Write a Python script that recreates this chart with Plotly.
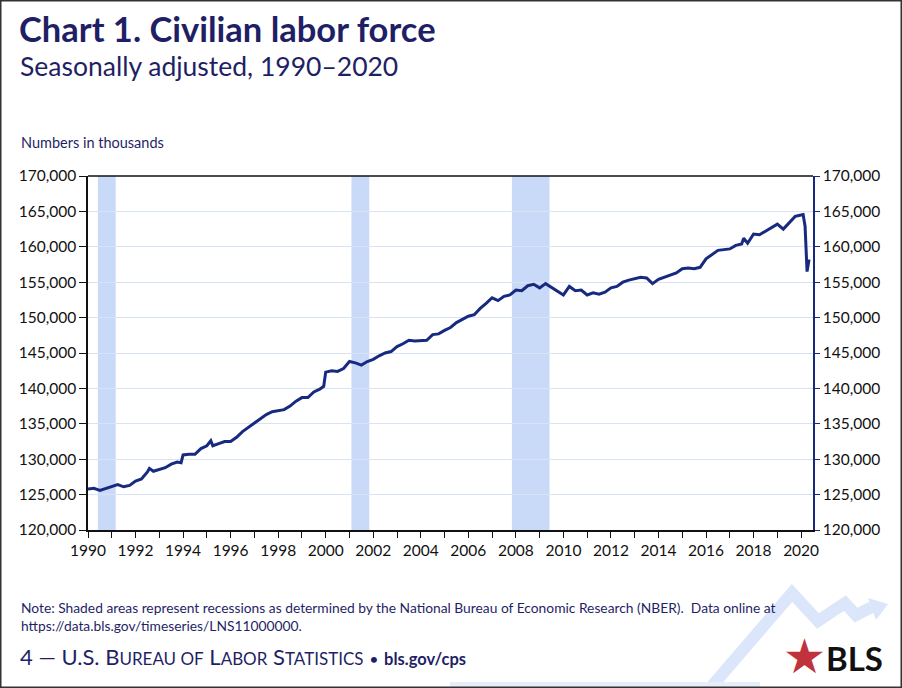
import plotly.graph_objects as go

# ---------------- data ----------------
months = ["1990-01","1990-04","1990-07","1990-10","1991-01","1991-04","1991-07","1991-10",
          "1992-01","1992-04","1992-07","1992-08","1992-10","1993-01","1993-04","1993-07","1993-10","1993-12",
          "1994-01","1994-04","1994-07","1994-10","1995-01","1995-03","1995-04","1995-07","1995-10",
          "1996-01","1996-04","1996-07","1996-10","1997-01","1997-04","1997-07","1997-10",
          "1998-01","1998-04","1998-07","1998-10","1999-01","1999-04","1999-07","1999-10","1999-12",
          "2000-01","2000-04","2000-07","2000-10","2001-01","2001-04","2001-07","2001-10",
          "2002-01","2002-04","2002-07","2002-10","2003-01","2003-04","2003-07","2003-10",
          "2004-01","2004-04","2004-07","2004-10","2005-01","2005-04","2005-07","2005-10",
          "2006-01","2006-04","2006-07","2006-10","2007-01","2007-04","2007-07","2007-10",
          "2008-01","2008-04","2008-07","2008-10","2009-01","2009-04","2009-07","2009-10",
          "2010-01","2010-04","2010-07","2010-10","2011-01","2011-04","2011-07","2011-10",
          "2012-01","2012-04","2012-07","2012-10","2013-01","2013-04","2013-07","2013-10",
          "2014-01","2014-04","2014-07","2014-10","2015-01","2015-04","2015-07","2015-10",
          "2016-01","2016-04","2016-07","2016-10","2017-01","2017-04","2017-07","2017-08","2017-10",
          "2018-01","2018-04","2018-07","2018-10","2019-01","2019-04","2019-07","2019-10",
          "2020-01","2020-02","2020-03","2020-04","2020-05"]
labor_force = [125800,125900,125600,125900,126100,126400,126100,126300,
               126900,127200,128200,128700,128300,128600,128800,129300,129600,129500,
               130600,130700,130700,131500,131900,132600,131900,132200,132500,
               132500,133100,133900,134500,135100,135700,136300,136700,
               136900,137000,137500,138200,138700,138700,139500,139900,140300,
               142300,142500,142400,142800,143800,143600,143300,143800,
               144100,144600,145000,145200,145900,146300,146800,146700,
               146800,146800,147600,147700,148200,148600,149300,149700,
               150200,150400,151300,152000,152800,152400,153000,153200,
               153900,153800,154500,154700,154200,154800,154300,153700,
               153200,154400,153800,153900,153200,153500,153300,153600,
               154200,154400,155000,155300,155500,155700,155600,154800,
               155400,155700,156000,156300,156900,157000,156900,157100,
               158300,158900,159500,159600,159700,160200,160400,161200,160500,
               161800,161700,162200,162700,163200,162500,163400,164300,
               164500,164550,162900,156500,158200]

recession_start = ["1990-06", "2001-02", "2007-11"]
recession_end = ["1991-03", "2001-11", "2009-06"]

y_ticks = [120000,125000,130000,135000,140000,145000,150000,155000,160000,165000,170000]
x_ticks = list(range(1990, 2021, 2))

def dec(m):
    y, mo = m.split("-")
    return int(y) + (int(mo) - 1) / 12.0

xs = [dec(m) for m in months]

# ---------------- geometry helpers ----------------
W, H = 902, 688
L, R, T, B = 88, 813, 176, 530
def px(x):
    return (x - L) / (R - L)
def py(y):
    return (B - y) / (B - T)

NAVY = "#1f1f66"
LINE = "#172a80"
FONT = "Lato"

fig = go.Figure()
fig.add_trace(go.Scatter(x=xs, y=labor_force, mode="lines",
                         line=dict(color=LINE, width=3), hoverinfo="skip", showlegend=False))
# invisible trace for the right axis
fig.add_trace(go.Scatter(x=[xs[0]], y=[labor_force[0]], yaxis="y2", mode="lines",
                         line=dict(width=0), hoverinfo="skip", showlegend=False))

shapes = []
for s, e in zip(recession_start, recession_end):
    shapes.append(dict(type="rect", xref="x", yref="paper", x0=dec(s), x1=dec(e), y0=0, y1=1,
                       fillcolor="#c9daf8", line=dict(width=0), layer="below"))
# decorative arrow (background)
pts = [(700, 700), (792, 593), (818, 621), (845, 603), (856, 615), (872, 607)]
path = "M " + " L ".join(f"{px(a):.4f},{py(b):.4f}" for a, b in pts)
shapes.append(dict(type="path", xref="paper", yref="paper", path=path,
                   line=dict(color="#dbe6fa", width=12), layer="below"))
tri = [(868, 598), (888, 604), (876, 620)]
shapes.append(dict(type="path", xref="paper", yref="paper",
                   path="M " + " L ".join(f"{px(a):.4f},{py(b):.4f}" for a, b in tri) + " Z",
                   fillcolor="#dbe6fa", line=dict(width=0), layer="below"))
shapes.append(dict(type="rect", xref="paper", yref="paper", x0=px(450), x1=px(760), y0=py(688), y1=py(682),
                   fillcolor="#e6eefb", line=dict(width=0), layer="below"))
# outer frame
shapes.append(dict(type="rect", xref="paper", yref="paper", x0=px(0.75), x1=px(W - 0.75), y0=py(H - 0.75), y1=py(0.75),
                   line=dict(color="#333333", width=1.5), fillcolor="rgba(0,0,0,0)"))
# top border line of plot
shapes.append(dict(type="line", xref="paper", yref="paper", x0=0, x1=1, y0=1, y1=1,
                   line=dict(color="#111111", width=1.5)))

annotations = [
    dict(text="<b>Chart 1. Civilian labor force</b>", x=px(17), y=py(6), xref="paper", yref="paper",
         xanchor="left", yanchor="top", showarrow=False, font=dict(family=FONT, size=34.5, color=NAVY)),
    dict(text="Seasonally adjusted, 1990\u20132020", x=px(18), y=py(48), xref="paper", yref="paper",
         xanchor="left", yanchor="top", showarrow=False, font=dict(family=FONT, size=26.5, color=NAVY)),
    dict(text="Numbers in thousands", x=px(19), y=py(142), xref="paper", yref="paper",
         xanchor="left", yanchor="middle", showarrow=False, font=dict(family=FONT, size=14.5, color=NAVY)),
    dict(text="Note: Shaded areas represent recessions as determined by the National Bureau of Economic Research (NBER).  Data online at<br>https://data.bls.gov/timeseries/LNS11000000.",
         x=px(19), y=py(597), xref="paper", yref="paper", xanchor="left", yanchor="top", align="left",
         showarrow=False, font=dict(family=FONT, size=13.8, color=NAVY)),
    dict(text=("4 \u2014 U.S. B<span style='font-size:17px'>UREAU OF</span> L<span style='font-size:17px'>ABOR</span> "
               "S<span style='font-size:17px'>TATISTICS</span> <span style='font-size:16px'>\u2022</span> "
               "<b><span style='font-size:16.5px'>bls.gov/cps</span></b>"),
         x=px(18), y=py(656), xref="paper", yref="paper", xanchor="left", yanchor="middle",
         showarrow=False, font=dict(family=FONT, size=22, color=NAVY)),
    dict(text="\u2605", x=px(804), y=py(656), xref="paper", yref="paper", xanchor="center", yanchor="middle",
         showarrow=False, font=dict(family="DejaVu Sans", size=48, color="#c0333a")),
    dict(text="<b>BLS</b>", x=px(854), y=py(658), xref="paper", yref="paper", xanchor="center", yanchor="middle",
         showarrow=False, font=dict(family=FONT, size=33, color="#111111")),
]

tick_font = dict(family=FONT, size=15.5, color="#111111")
fig.update_layout(
    width=W, height=H, margin=dict(l=L, r=W - R, t=T, b=H - B),
    paper_bgcolor="white", plot_bgcolor="white",
    shapes=shapes, annotations=annotations,
    xaxis=dict(range=[1990, 2020.5], tickmode="array", tickvals=x_ticks, ticktext=[str(v) for v in x_ticks],
               ticks="outside", ticklen=6, tickcolor="#111111", tickwidth=1,
               minor=dict(dtick=1, tick0=1990, ticks="outside", ticklen=6, tickcolor="#111111", showgrid=False),
               showgrid=False, zeroline=False, showline=True, linecolor="#111111", linewidth=1.5,
               mirror=False, tickfont=tick_font),
    yaxis=dict(range=[120000, 170000], tickvals=y_ticks, ticktext=[f"{v:,}" for v in y_ticks],
               ticks="outside", ticklen=7, tickcolor="#111111",
               showgrid=True, gridcolor="#d9e3f6", gridwidth=1, zeroline=False,
               showline=True, linecolor="#111111", linewidth=1.5, tickfont=tick_font),
    yaxis2=dict(range=[120000, 170000], overlaying="y", side="right", tickvals=y_ticks,
                ticktext=[f"{v:,}" for v in y_ticks], ticks="outside", ticklen=5, tickcolor=LINE,
                showgrid=False, zeroline=False, showline=True, linecolor=LINE, linewidth=1.5,
                tickfont=tick_font),
)

fig.write_html("out.html", config={"displayModeBar": False},
               post_script="document.body.style.margin='0px';")
